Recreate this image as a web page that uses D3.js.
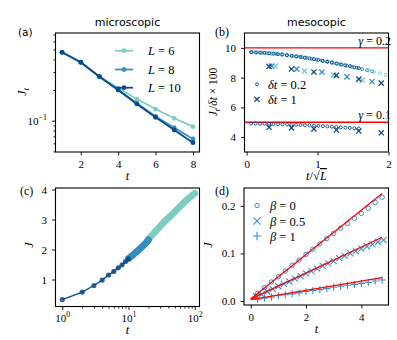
<!DOCTYPE html>
<html>
<head>
<meta charset="utf-8">
<script src="https://cdn.jsdelivr.net/npm/d3@7"></script>
<style>
  body { margin: 0; background: #fff; }
  text { font-family: "Liberation Serif", serif; }
</style>
</head>
<body>
<div id="chart"></div>
<script>
// ---- data ----
const colL6 = '#7ccdc2', colL8 = '#3791c5', colL10 = '#0b4a8b';
const colBeta = '#3a90c6';

// (a) microscopic J_t vs t (log y)
const tMicro = [1, 2, 3, 4, 5, 6, 7, 8];
const jtL6 = [0.468, 0.374, 0.272, 0.209, 0.163, 0.130, 0.1055, 0.0873];
const jtL8 = [0.468, 0.374, 0.270, 0.201, 0.148, 0.110, 0.0854, 0.0662];
const jtL10 = [0.468, 0.374, 0.270, 0.200, 0.146, 0.108, 0.081, 0.0608];
const aTicksX = [2, 4, 6, 8];
const aMinorY = [0.05, 0.06, 0.07, 0.08, 0.09, 0.2, 0.3, 0.4, 0.5, 0.6, 0.7];

// (b) mesoscopic J_t/dt*100 vs t/sqrt(L)
const tSmall = [0.2, 0.4, 0.6, 0.8, 1.0, 1.2, 1.4, 1.6, 1.8, 2.0, 2.2, 2.4, 2.6, 2.8, 3.0, 3.2, 3.4, 3.6, 3.8, 4.0, 4.2, 4.4, 4.6, 4.8, 5.0];
const tBig = [1, 2, 3, 4, 5, 6];
const bSmallL6 = [9.71, 9.69, 9.66, 9.63, 9.60, 9.56, 9.51, 9.46, 9.40, 9.34, 9.28, 9.21, 9.14, 9.07, 8.99, 8.92, 8.84, 8.76, 8.67, 8.58, 8.49, 8.39, 8.29, 8.19, 8.09];
const bSmallL8 = [9.71, 9.69, 9.67, 9.65, 9.62, 9.59, 9.56, 9.52, 9.47, 9.43, 9.38, 9.33, 9.27, 9.21, 9.15, 9.08, 9.01, 8.94, 8.87, 8.80, 8.73, 8.66, 8.58, 8.50, 8.42];
const bSmallL10 = [9.71, 9.70, 9.68, 9.66, 9.64, 9.61, 9.58, 9.55, 9.51, 9.47, 9.43, 9.39, 9.34, 9.29, 9.24, 9.19, 9.13, 9.07, 9.01, 8.95, 8.89, 8.83, 8.77, 8.70, 8.64];
const bSmallLow = [4.91, 4.91, 4.90, 4.90, 4.89, 4.88, 4.87, 4.86, 4.85, 4.84, 4.83, 4.82, 4.80, 4.79, 4.77, 4.76, 4.74, 4.72, 4.70, 4.68, 4.66, 4.64, 4.62, 4.60, 4.58];
const bBigL6 = [8.78, 8.44, 8.17, 7.82];
const bBigL8 = [8.77, 8.57, 8.37, 8.05, 7.74];
const bBigL10 = [8.76, 8.58, 8.38, 8.15, 7.90, 7.63];
const bBigLow = [4.66, 4.62, 4.55, 4.48, 4.41, 4.29];
const gammaLevels = [10, 5];
const gammaNames = ['0.2', '0.1'];
const bTicksX = [0, 1, 2];
const bTicksY = [4, 6, 8, 10];

// (c) J vs t (log x)
const cT10 = [1, 2, 3, 4, 5, 6, 7, 8, 9, 10];
const cJ10 = [0.33, 0.58, 0.80, 0.98, 1.15, 1.27, 1.39, 1.49, 1.60, 1.69];
const cT8 = [10, 11, 12, 13, 14, 15, 16, 17, 18, 19, 20];
const cJ8 = [1.70, 1.77, 1.84, 1.91, 1.97, 2.03, 2.09, 2.15, 2.20, 2.26, 2.32];
const cT6 = [20, 22, 25, 28, 32, 36, 40, 45, 50, 56, 63, 71, 80, 90, 100];
const cJ6 = [2.35, 2.45, 2.58, 2.70, 2.84, 2.96, 3.05, 3.16, 3.26, 3.37, 3.48, 3.59, 3.70, 3.79, 3.87];
const cTicksX = [1, 10, 100];
const cMinorX = [2, 3, 4, 5, 6, 7, 8, 9, 20, 30, 40, 50, 60, 70, 80, 90];
const cTicksY = [1, 2, 3, 4];

// (d) J vs t for several beta
const dT1 = [0.25, 0.5, 0.75, 1.0, 1.25, 1.5, 1.75, 2.0, 2.25, 2.5, 2.75, 3.0, 3.25, 3.5, 3.75, 4.0, 4.25, 4.5, 4.75];
const dT2 = [0.2, 0.4, 0.6, 0.8, 1.0, 1.2, 1.4, 1.6, 1.8, 2.0, 2.2, 2.4, 2.6, 2.8, 3.0, 3.2, 3.4, 3.6, 3.8, 4.0, 4.2, 4.4, 4.6, 4.8];
const dBeta0 = [0.016, 0.028, 0.040, 0.051, 0.063, 0.075, 0.086, 0.098, 0.109, 0.120, 0.131, 0.142, 0.153, 0.163, 0.174, 0.184, 0.195, 0.207, 0.218];
const dBeta05 = [0.010, 0.014, 0.020, 0.025, 0.031, 0.036, 0.041, 0.047, 0.052, 0.058, 0.063, 0.068, 0.074, 0.079, 0.084, 0.090, 0.095, 0.100, 0.105, 0.110, 0.115, 0.119, 0.124, 0.128];
const dBeta1 = [0.004, 0.006, 0.008, 0.011, 0.013, 0.015, 0.017, 0.020, 0.022, 0.024, 0.026, 0.029, 0.031, 0.033, 0.035, 0.037, 0.039, 0.042, 0.044];
const fitT = [0, 4.75];
const fit0 = [0.004, 0.226];
const fit05 = [0.004, 0.134];
const fit1 = [0.003, 0.049];
const dTicksX = [0, 2, 4];
const dTicksY = [0, 0.1, 0.2];

// ---- svg ----
const svg = d3.select('#chart').append('svg')
    .attr('width', 397)
    .attr('height', 340);

// write text with italic / sub / sup parts
function rich(sel, parts, size) {
    let shift = 0;
    parts.forEach(p => {
        const s = p.sub ? 3 : p.sup ? -5 : 0;
        const ts = sel.append('tspan')
            .attr('font-size', (p.sub || p.sup) ? size * 0.72 : size)
            .attr('font-style', p.i ? 'italic' : 'normal')
            .text(p.t);
        if (s - shift !== 0) ts.attr('dy', s - shift);
        if (p.o) ts.style('text-decoration', 'overline');
        shift = s;
    });
    return sel;
}

function styleAxis(g) {
    g.select('.domain').remove();
    g.selectAll('line').attr('stroke', '#000').attr('stroke-width', 0.9);
    g.selectAll('text').attr('font-size', 11).attr('fill', '#000');
}

function panel(box, id) {
    const g = svg.append('g');
    g.append('clipPath').attr('id', id)
        .append('rect')
        .attr('x', box.l).attr('y', box.t)
        .attr('width', box.r - box.l).attr('height', box.b - box.t);
    const plot = g.append('g').attr('clip-path', `url(#${id})`);
    return { g, plot };
}

function frame(g, box) {
    g.append('rect')
        .attr('x', box.l).attr('y', box.t)
        .attr('width', box.r - box.l).attr('height', box.b - box.t)
        .attr('fill', 'none').attr('stroke', '#000').attr('stroke-width', 1.1);
}

function crossPath(s) { return `M${-s},${-s}L${s},${s}M${-s},${s}L${s},${-s}`; }
function plusPath(s) { return `M${-s},0L${s},0M0,${-s}L0,${s}`; }

// ================= (a) =================
const boxA = { l: 55.5, t: 33, r: 199.5, b: 152 };
const xA = d3.scaleLinear().domain([0.65, 8.35]).range([boxA.l, boxA.r]);
const yA = d3.scaleLog().domain([0.0493, 0.724]).range([boxA.b, boxA.t]);
const pA = panel(boxA, 'clipA');

const lineA = d3.line().x(d => xA(d[0])).y(d => yA(d[1]));
[[jtL6, colL6], [jtL8, colL8], [jtL10, colL10]].forEach(([vals, col]) => {
    const pts = tMicro.map((t, i) => [t, vals[i]]);
    pA.plot.append('path').attr('d', lineA(pts)).attr('fill', 'none')
        .attr('stroke', col).attr('stroke-width', 1.8);
    pA.plot.selectAll(null).data(pts).join('circle')
        .attr('cx', d => xA(d[0])).attr('cy', d => yA(d[1]))
        .attr('r', 2.4).attr('fill', col);
});

pA.g.append('g').attr('transform', `translate(0,${boxA.b})`)
    .call(d3.axisBottom(xA).tickValues(aTicksX).tickFormat(d3.format('d')).tickSize(3.5).tickPadding(5))
    .call(styleAxis);
pA.g.append('g').attr('transform', `translate(${boxA.l},0)`)
    .call(d3.axisLeft(yA).tickValues([0.1]).tickFormat('').tickSize(3.5).tickPadding(5))
    .call(styleAxis)
    .call(g => g.selectAll('.tick text').each(function () {
        rich(d3.select(this), [{ t: '10' }, { t: '−1', sup: true }], 11);
    }));
pA.g.append('g').attr('transform', `translate(${boxA.l},0)`)
    .call(d3.axisLeft(yA).tickValues(aMinorY).tickFormat('').tickSize(2))
    .call(styleAxis);
frame(pA.g, boxA);

// legend (a)
const legA = [['6', colL6], ['8', colL8], ['10', colL10]];
const legAy = [50.7, 69.5, 87.7];
legA.forEach(([name, col], i) => {
    const ly = legAy[i];
    svg.append('line').attr('x1', 115).attr('x2', 133).attr('y1', ly).attr('y2', ly)
        .attr('stroke', col).attr('stroke-width', 1.8);
    svg.append('circle').attr('cx', 124).attr('cy', ly).attr('r', 2.4).attr('fill', col);
    rich(svg.append('text').attr('x', 148).attr('y', ly + 4.5),
        [{ t: 'L', i: true }, { t: ' = ' + name }], 12.5);
});

// ================= (b) =================
const boxB = { l: 244.5, t: 33, r: 388.5, b: 152 };
const xB = d3.scaleLinear().domain([-0.03, 2]).range([boxB.l, boxB.r]);
const yB = d3.scaleLinear().domain([3, 11]).range([boxB.b, boxB.t]);
const pB = panel(boxB, 'clipB');

gammaLevels.forEach(v => {
    pB.plot.append('line')
        .attr('x1', boxB.l).attr('x2', boxB.r)
        .attr('y1', yB(v)).attr('y2', yB(v))
        .attr('stroke', '#ff0000').attr('stroke-width', 1.3);
});

const circleSets = [
    [bSmallL6, 6, colL6], [bSmallL8, 8, colL8], [bSmallL10, 10, colL10], [bSmallLow, 10, colL10]
];
circleSets.forEach(([vals, L, col]) => {
    pB.plot.selectAll(null).data(vals).join('circle')
        .attr('cx', (d, i) => xB(tSmall[i] / Math.sqrt(L)))
        .attr('cy', d => yB(d))
        .attr('r', 1.5).attr('fill', 'none')
        .attr('stroke', col).attr('stroke-width', 0.9);
});
const crossSets = [
    [bBigL6, 6, colL6], [bBigL8, 8, colL8], [bBigL10, 10, colL10], [bBigLow, 10, colL10]
];
crossSets.forEach(([vals, L, col]) => {
    pB.plot.selectAll(null).data(vals).join('path')
        .attr('transform', (d, i) => `translate(${xB(tBig[i] / Math.sqrt(L))},${yB(d)})`)
        .attr('d', crossPath(2.6))
        .attr('stroke', col).attr('stroke-width', 1.3).attr('fill', 'none');
});

gammaLevels.forEach((v, i) => {
    rich(pB.g.append('text').attr('x', 391).attr('y', yB(v) - 3).attr('text-anchor', 'end'),
        [{ t: 'γ', i: true }, { t: ' = ' + gammaNames[i] }], 12);
});

pB.g.append('g').attr('transform', `translate(0,${boxB.b})`)
    .call(d3.axisBottom(xB).tickValues(bTicksX).tickFormat(d3.format('d')).tickSize(3.5).tickPadding(5))
    .call(styleAxis);
pB.g.append('g').attr('transform', `translate(${boxB.l},0)`)
    .call(d3.axisLeft(yB).tickValues(bTicksY).tickFormat(d3.format('d')).tickSize(3.5).tickPadding(5))
    .call(styleAxis);
frame(pB.g, boxB);

// legend (b)
svg.append('circle').attr('cx', 257).attr('cy', 84.3).attr('r', 1.5)
    .attr('fill', 'none').attr('stroke', colL10).attr('stroke-width', 0.9);
rich(svg.append('text').attr('x', 268).attr('y', 88.5),
    [{ t: 'δt', i: true }, { t: ' = 0.2' }], 12.5);
svg.append('path').attr('transform', 'translate(257,99.3)').attr('d', crossPath(2.6))
    .attr('stroke', colL10).attr('stroke-width', 1.3);
rich(svg.append('text').attr('x', 268).attr('y', 103.5),
    [{ t: 'δt', i: true }, { t: ' = 1' }], 12.5);

// ================= (c) =================
const boxC = { l: 55.5, t: 188, r: 199.5, b: 306.5 };
const xC = d3.scaleLog().domain([0.79, 118]).range([boxC.l, boxC.r]);
const yC = d3.scaleLinear().domain([0.1, 4.05]).range([boxC.b, boxC.t]);
const pC = panel(boxC, 'clipC');
const lineC = d3.line().x(d => xC(d[0])).y(d => yC(d[1]));

const ptsC6 = cT6.map((t, i) => [t, cJ6[i]]);
const ptsC8 = cT8.map((t, i) => [t, cJ8[i]]);
const ptsC10 = cT10.map((t, i) => [t, cJ10[i]]);

// dense runs of markers drawn as a wide band
pC.plot.append('path').attr('d', lineC(ptsC6)).attr('fill', 'none')
    .attr('stroke', colL6).attr('stroke-width', 6.8).attr('stroke-linecap', 'round');
pC.plot.append('path').attr('d', lineC(ptsC8)).attr('fill', 'none')
    .attr('stroke', colL8).attr('stroke-width', 6.2).attr('stroke-linecap', 'round');
pC.plot.selectAll(null).data(ptsC8).join('circle')
    .attr('cx', d => xC(d[0])).attr('cy', d => yC(d[1]))
    .attr('r', 3.1).attr('fill', colL8)
    .attr('stroke', d3.color(colL8).darker(0.4)).attr('stroke-width', 0.5);
pC.plot.append('path').attr('d', lineC(ptsC10)).attr('fill', 'none')
    .attr('stroke', colL10).attr('stroke-width', 1.4);
pC.plot.selectAll(null).data(ptsC10).join('circle')
    .attr('cx', d => xC(d[0])).attr('cy', d => yC(d[1]))
    .attr('r', 2.6).attr('fill', colL10).attr('fill-opacity', 0.85);

const supFmt = { 1: '0', 10: '1', 100: '2' };
pC.g.append('g').attr('transform', `translate(0,${boxC.b})`)
    .call(d3.axisBottom(xC).tickValues(cTicksX).tickFormat('').tickSize(3.5).tickPadding(4))
    .call(styleAxis)
    .call(g => g.selectAll('.tick text').each(function (d) {
        rich(d3.select(this), [{ t: '10' }, { t: supFmt[d], sup: true }], 11);
    }));
pC.g.append('g').attr('transform', `translate(0,${boxC.b})`)
    .call(d3.axisBottom(xC).tickValues(cMinorX).tickFormat('').tickSize(2))
    .call(styleAxis);
pC.g.append('g').attr('transform', `translate(${boxC.l},0)`)
    .call(d3.axisLeft(yC).tickValues(cTicksY).tickFormat(d3.format('d')).tickSize(3.5).tickPadding(5))
    .call(styleAxis);
frame(pC.g, boxC);

// ================= (d) =================
const boxD = { l: 244, t: 188, r: 388.5, b: 305 };
const xD = d3.scaleLinear().domain([-0.24, 4.98]).range([boxD.l, boxD.r]);
const yD = d3.scaleLinear().domain([-0.0084, 0.2375]).range([boxD.b, boxD.t]);
const pD = panel(boxD, 'clipD');

pD.plot.selectAll(null).data(dBeta0).join('circle')
    .attr('cx', (d, i) => xD(dT1[i])).attr('cy', d => yD(d))
    .attr('r', 2.2).attr('fill', 'none').attr('stroke', colBeta).attr('stroke-width', 1);
pD.plot.selectAll(null).data(dBeta05).join('path')
    .attr('transform', (d, i) => `translate(${xD(dT2[i])},${yD(d)})`)
    .attr('d', crossPath(3)).attr('stroke', colBeta).attr('stroke-width', 1.1);
pD.plot.selectAll(null).data(dBeta1).join('path')
    .attr('transform', (d, i) => `translate(${xD(dT1[i])},${yD(d)})`)
    .attr('d', plusPath(3.6)).attr('stroke', colBeta).attr('stroke-width', 1.1);

const lineD = d3.line().x(d => xD(d[0])).y(d => yD(d[1]));
[fit0, fit05, fit1].forEach(f => {
    pD.plot.append('path').attr('d', lineD(fitT.map((t, i) => [t, f[i]])))
        .attr('fill', 'none').attr('stroke', '#ff0000').attr('stroke-width', 1.3);
});

pD.g.append('g').attr('transform', `translate(0,${boxD.b})`)
    .call(d3.axisBottom(xD).tickValues(dTicksX).tickFormat(d3.format('d')).tickSize(3.5).tickPadding(5))
    .call(styleAxis);
pD.g.append('g').attr('transform', `translate(${boxD.l},0)`)
    .call(d3.axisLeft(yD).tickValues(dTicksY).tickFormat(d3.format('.1f')).tickSize(3.5).tickPadding(5))
    .call(styleAxis);
frame(pD.g, boxD);

// legend (d)
svg.append('circle').attr('cx', 257).attr('cy', 205.5).attr('r', 2.2)
    .attr('fill', 'none').attr('stroke', colBeta).attr('stroke-width', 1);
rich(svg.append('text').attr('x', 270).attr('y', 210), [{ t: 'β', i: true }, { t: ' = 0' }], 12.5);
svg.append('path').attr('transform', 'translate(257,221)').attr('d', crossPath(3.6))
    .attr('stroke', colBeta).attr('stroke-width', 1.1);
rich(svg.append('text').attr('x', 270).attr('y', 225.5), [{ t: 'β', i: true }, { t: ' = 0.5' }], 12.5);
svg.append('path').attr('transform', 'translate(257,236)').attr('d', plusPath(4.2))
    .attr('stroke', colBeta).attr('stroke-width', 1.1);
rich(svg.append('text').attr('x', 270).attr('y', 240.5), [{ t: 'β', i: true }, { t: ' = 1' }], 12.5);

// ---- titles, panel tags and axis labels ----
const sans = '"DejaVu Sans", sans-serif';
svg.append('text').attr('x', 127.5).attr('y', 25.5).attr('text-anchor', 'middle')
    .style('font-family', sans).attr('font-size', 11).text('microscopic');
svg.append('text').attr('x', 316.5).attr('y', 25.5).attr('text-anchor', 'middle')
    .style('font-family', sans).attr('font-size', 11).text('mesocopic');
svg.append('text').attr('x', 18).attr('y', 36).style('font-family', sans).attr('font-size', 10.5).text('(a)');
svg.append('text').attr('x', 215).attr('y', 36).attr('font-size', 12).text('(b)');
svg.append('text').attr('x', 20).attr('y', 195).attr('font-size', 12).text('(c)');
svg.append('text').attr('x', 215).attr('y', 195).attr('font-size', 12).text('(d)');

// x labels
rich(svg.append('text').attr('x', 127.5).attr('y', 180).attr('text-anchor', 'middle'), [{ t: 't', i: true }], 12.5);
rich(svg.append('text').attr('x', 316.5).attr('y', 180).attr('text-anchor', 'middle'),
    [{ t: 't', i: true }, { t: '/√' }, { t: 'L', i: true, o: true }], 12.5);
rich(svg.append('text').attr('x', 127.5).attr('y', 334).attr('text-anchor', 'middle'), [{ t: 't', i: true }], 12.5);
rich(svg.append('text').attr('x', 316.5).attr('y', 333).attr('text-anchor', 'middle'), [{ t: 't', i: true }], 12.5);

// y labels
rich(svg.append('text').attr('transform', 'translate(26,92) rotate(-90)').attr('text-anchor', 'middle'),
    [{ t: 'J', i: true }, { t: 't', i: true, sub: true }], 12.5);
rich(svg.append('text').attr('transform', 'translate(217,92) rotate(-90)').attr('text-anchor', 'middle'),
    [{ t: 'J', i: true }, { t: 't', i: true, sub: true }, { t: '/' }, { t: 'δt', i: true }, { t: ' × 100' }], 11.5);
rich(svg.append('text').attr('transform', 'translate(33,245) rotate(-90)').attr('text-anchor', 'middle'),
    [{ t: 'J', i: true }], 12.5);
rich(svg.append('text').attr('transform', 'translate(212,245) rotate(-90)').attr('text-anchor', 'middle'),
    [{ t: 'J', i: true }], 12.5);
</script>
</body>
</html>
